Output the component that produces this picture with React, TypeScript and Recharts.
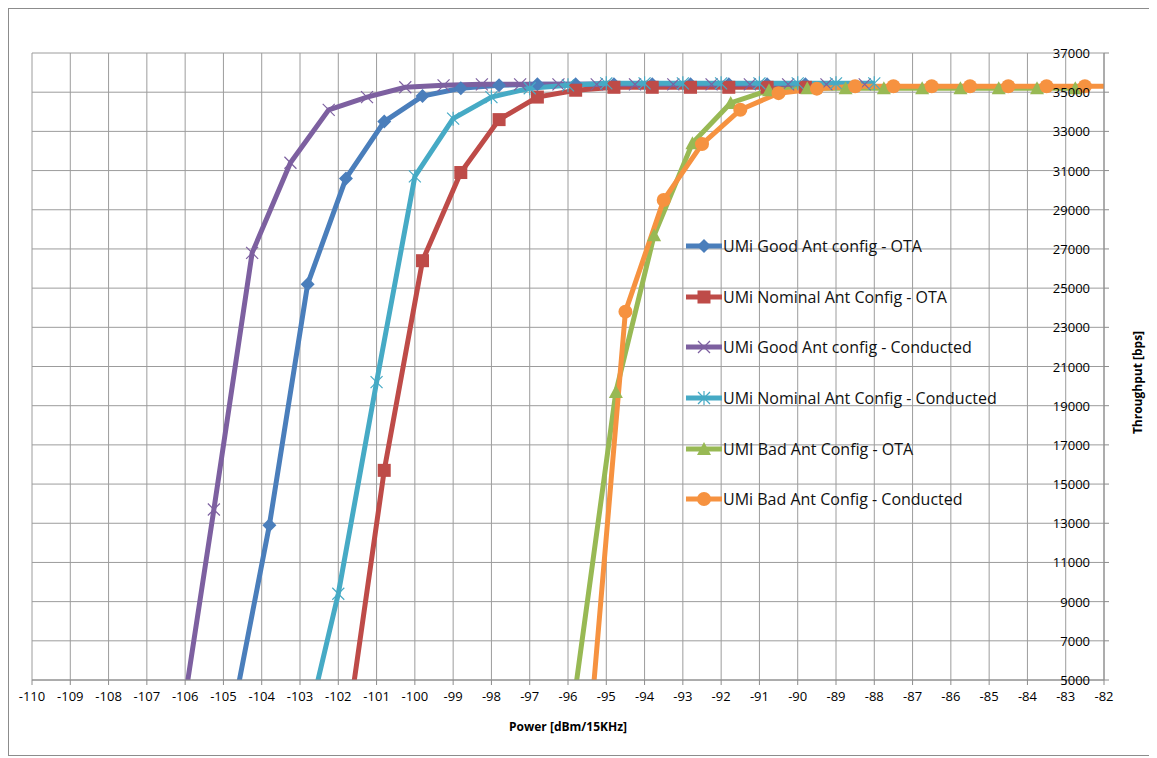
import React from "react"
import { LineChart, Line, XAxis, YAxis, CartesianGrid, Legend, Label } from "recharts"

// Power sweep (dBm/15KHz) and throughput (bps) per configuration
const goodOtaPower = [-104.8, -103.8, -102.8, -101.8, -100.8, -99.8, -98.8, -97.8, -96.8, -95.8, -94.8, -93.8, -92.8, -91.8, -90.8, -89.8]
const goodOtaThroughput = [2800, 12900, 25200, 30600, 33500, 34800, 35200, 35350, 35400, 35400, 35400, 35400, 35400, 35400, 35400, 35400]

const nominalOtaPower = [-101.8, -100.8, -99.8, -98.8, -97.8, -96.8, -95.8, -94.8, -93.8, -92.8, -91.8, -90.8, -89.8]
const nominalOtaThroughput = [2000, 15700, 26400, 30900, 33600, 34750, 35100, 35250, 35250, 35250, 35250, 35250, 35250]

const goodCondPower = [-106.25, -105.25, -104.25, -103.25, -102.25, -101.25, -100.25, -99.25, -98.25, -97.25, -96.25, -95.25, -94.25, -93.25, -92.25, -91.25, -90.25, -89.25, -88.25]
const goodCondThroughput = [900, 13700, 26800, 31400, 34100, 34750, 35250, 35350, 35400, 35400, 35400, 35400, 35400, 35400, 35400, 35400, 35400, 35400, 35400]

const nominalCondPower = [-103, -102, -101, -100, -99, -98, -97, -96, -95, -94, -93, -92, -91, -90, -89, -88]
const nominalCondThroughput = [1100, 9400, 20200, 30700, 33650, 34750, 35200, 35350, 35450, 35450, 35450, 35450, 35450, 35450, 35450, 35450]

const badOtaPower = [-95.8, -94.75, -93.75, -92.75, -91.75, -90.75, -89.75, -88.75, -87.75, -86.75, -85.75, -84.75, -83.75, -82.75]
const badOtaThroughput = [4600, 19700, 27700, 32400, 34450, 35100, 35200, 35200, 35200, 35200, 35200, 35200, 35200, 35200]

const badCondPower = [-95.5, -94.5, -93.5, -92.5, -91.5, -90.5, -89.5, -88.5, -87.5, -86.5, -85.5, -84.5, -83.5, -82.5, -81.5]
const badCondThroughput = [800, 23800, 29500, 32350, 34100, 34950, 35180, 35300, 35300, 35300, 35300, 35300, 35300, 35300, 35300]

const xTicks = [-110, -109, -108, -107, -106, -105, -104, -103, -102, -101, -100, -99, -98, -97, -96, -95, -94, -93, -92, -91, -90, -89, -88, -87, -86, -85, -84, -83, -82]
const yTicks = [5000, 7000, 9000, 11000, 13000, 15000, 17000, 19000, 21000, 23000, 25000, 27000, 29000, 31000, 33000, 35000, 37000]

const zip = (xs: number[], ys: number[]) => xs.map((x, i) => ({ x, y: ys[i] }))

const series = [
  { name: "UMi Good Ant config - OTA", color: "#4A7EBB", marker: "diamond", data: zip(goodOtaPower, goodOtaThroughput) },
  { name: "UMi Nominal Ant Config - OTA", color: "#BE4B48", marker: "square", data: zip(nominalOtaPower, nominalOtaThroughput) },
  { name: "UMi Good Ant config - Conducted", color: "#7D60A0", marker: "x", data: zip(goodCondPower, goodCondThroughput) },
  { name: "UMi Nominal Ant Config - Conducted", color: "#46AAC5", marker: "star", data: zip(nominalCondPower, nominalCondThroughput) },
  { name: "UMI Bad Ant Config - OTA", color: "#98B954", marker: "triangle", data: zip(badOtaPower, badOtaThroughput) },
  { name: "UMi Bad Ant Config - Conducted", color: "#F69240", marker: "circle", data: zip(badCondPower, badCondThroughput) },
]

const FONT = "'Open Sans', 'Liberation Sans', sans-serif"

function Marker({ kind, cx, cy, color }: { kind: string; cx: number; cy: number; color: string }) {
  if (cx == null || cy == null || isNaN(cx) || isNaN(cy)) return null
  switch (kind) {
    case "diamond":
      return <polygon points={`${cx},${cy - 7} ${cx + 7},${cy} ${cx},${cy + 7} ${cx - 7},${cy}`} fill={color} />
    case "square":
      return <rect x={cx - 6.5} y={cy - 6.5} width={13} height={13} fill={color} />
    case "x":
      return (
        <g stroke={color} strokeWidth={1.2}>
          <line x1={cx - 6} y1={cy - 6} x2={cx + 6} y2={cy + 6} />
          <line x1={cx - 6} y1={cy + 6} x2={cx + 6} y2={cy - 6} />
        </g>
      )
    case "star":
      return (
        <g stroke={color} strokeWidth={1.2}>
          <line x1={cx - 6} y1={cy - 6} x2={cx + 6} y2={cy + 6} />
          <line x1={cx - 6} y1={cy + 6} x2={cx + 6} y2={cy - 6} />
          <line x1={cx} y1={cy - 7} x2={cx} y2={cy + 7} />
        </g>
      )
    case "triangle":
      return <polygon points={`${cx},${cy - 7} ${cx + 7},${cy + 6} ${cx - 7},${cy + 6}`} fill={color} />
    default:
      return <circle cx={cx} cy={cy} r={7} fill={color} />
  }
}

function YTick({ x, y, payload }: any) {
  return (
    <text x={x - 19} y={y} textAnchor="end" dominantBaseline="central" fontSize={13} fontFamily={FONT} fill="#000">
      {payload.value}
    </text>
  )
}

function LegendBox() {
  return (
    <div style={{ fontFamily: FONT, fontSize: 16, color: "#111" }}>
      {series.map((s) => (
        <div key={s.name} style={{ display: "flex", alignItems: "center", height: 50.6 }}>
          <svg width={38} height={18} style={{ display: "block" }}>
            <line x1={1} y1={9} x2={37} y2={9} stroke={s.color} strokeWidth={5} />
            <Marker kind={s.marker} cx={19} cy={9} color={s.color} />
          </svg>
          <span style={{ whiteSpace: "nowrap" }}>{s.name}</span>
        </div>
      ))}
    </div>
  )
}

export default function App() {
  return (
    <div style={{ width: 1141, height: 746, border: "1px solid #8c8c8c", background: "#fff" }}>
      <LineChart width={1141} height={746} margin={{ top: 44, right: 0, bottom: 15, left: 23 }}>
        <CartesianGrid stroke="#9c9c9c" strokeWidth={1} />
        <XAxis
          dataKey="x"
          type="number"
          domain={[-110, -82]}
          ticks={xTicks}
          allowDataOverflow
          interval={0}
          height={60}
          stroke="#8c8c8c"
          tickSize={5}
          tickMargin={7}
          tick={{ fontSize: 13, fontFamily: FONT, fill: "#000" }}
        >
          <Label
            value="Power [dBm/15KHz]"
            position="insideBottom"
            offset={9}
            style={{ fontSize: 12, fontWeight: "bold", fontFamily: FONT, fill: "#000" }}
          />
        </XAxis>
        <YAxis
          dataKey="y"
          type="number"
          orientation="right"
          domain={[5000, 37000]}
          ticks={yTicks}
          allowDataOverflow
          interval={0}
          width={46}
          stroke="#8c8c8c"
          tickSize={5}
          tickMargin={0}
          tick={<YTick />}
        >
          <Label
            content={({ viewBox }: any) => {
              const cx = viewBox.x + 33
              const cy = viewBox.y + viewBox.height / 2 + 16
              return (
                <text
                  x={cx}
                  y={cy}
                  transform={`rotate(-90, ${cx}, ${cy})`}
                  textAnchor="middle"
                  dominantBaseline="central"
                  fontSize={12}
                  fontWeight="bold"
                  fontFamily={FONT}
                  fill="#000"
                >
                  Throughput [bps]
                </text>
              )
            }}
          />
        </YAxis>
        <Legend
          layout="vertical"
          align="center"
          verticalAlign="middle"
          content={() => <LegendBox />}
          wrapperStyle={{ left: 676, top: 212, width: 360 }}
        />
        {series.map((s) => (
          <Line
            key={s.name}
            data={s.data}
            dataKey="y"
            name={s.name}
            type="linear"
            stroke={s.color}
            strokeWidth={5}
            isAnimationActive={false}
            dot={(p: any) => <Marker key={`${s.name}-${p.index}`} kind={s.marker} cx={p.cx} cy={p.cy} color={s.color} />}
            activeDot={false}
          />
        ))}
      </LineChart>
    </div>
  )
}
